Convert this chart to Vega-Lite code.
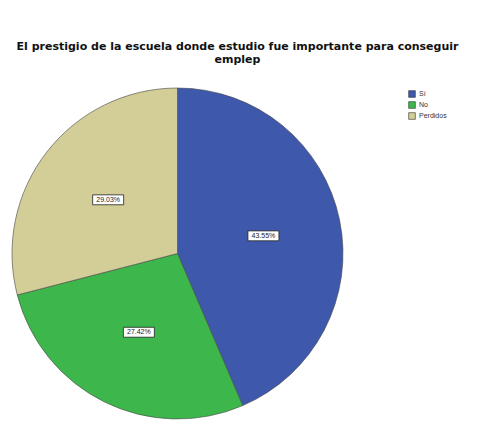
{
  "$schema": "https://vega.github.io/schema/vega-lite/v6.json",
  "autosize": "none",
  "padding": {"left": 12, "top": 88, "right": 156, "bottom": 5},
  "width": 331,
  "height": 331,
  "background": "white",
  "view": {"stroke": null},
  "title": {
    "text": ["El prestigio de la escuela donde estudio fue importante para conseguir", "emplep"],
    "font": "DejaVu Sans",
    "fontSize": 11,
    "fontWeight": "bold",
    "color": "#111",
    "anchor": "middle",
    "dx": 60,
    "offset": 22,
    "lineHeight": 13
  },
  "data": {
    "values": [
      {"cat": "Sí", "pct": 43.55, "ord": 1, "label": "43.55%"},
      {"cat": "No", "pct": 27.42, "ord": 2, "label": "27.42%"},
      {"cat": "Perdidos", "pct": 29.03, "ord": 3, "label": "29.03%"}
    ]
  },
  "layer": [
    {
      "mark": {"type": "arc", "stroke": "#444", "strokeWidth": 0.6},
      "encoding": {
        "theta": {"field": "pct", "type": "quantitative", "stack": true},
        "order": {"field": "ord", "type": "quantitative"},
        "color": {
          "field": "cat",
          "type": "nominal",
          "sort": ["Sí", "No", "Perdidos"],
          "scale": {"domain": ["Sí", "No", "Perdidos"], "range": ["#3e58ac", "#3db64b", "#d3cd97"]},
          "legend": {
            "title": null,
            "orient": "none",
            "legendX": 396,
            "legendY": 2,
            "symbolType": "square",
            "symbolSize": 45,
            "symbolStrokeColor": "#333",
            "symbolStrokeWidth": 0.6,
            "labelFont": "Liberation Sans",
            "labelFontSize": 7,
            "labelColor": "#333",
            "rowPadding": 1,
            "labelOffset": 3
          }
        }
      }
    },
    {
      "transform": [
        {"window": [{"op": "sum", "field": "pct", "as": "cum"}], "sort": [{"field": "ord"}], "frame": [null, 0]},
        {"calculate": "(datum.cum - datum.pct / 2) / 100 * 2 * PI", "as": "mid"},
        {"calculate": "0.53 * sin(datum.mid)", "as": "lx"},
        {"calculate": "0.53 * cos(datum.mid)", "as": "ly"}
      ],
      "encoding": {
        "x": {"field": "lx", "type": "quantitative", "scale": {"domain": [-1, 1], "nice": false, "zero": false}, "axis": null},
        "y": {"field": "ly", "type": "quantitative", "scale": {"domain": [-1, 1], "nice": false, "zero": false}, "axis": null}
      },
      "layer": [
        {
          "mark": {"type": "point", "shape": "M-1,-0.32H1V0.32H-1Z", "size": 961, "filled": true, "fill": "white", "stroke": "#222", "strokeWidth": 0.8, "opacity": 1}
        },
        {
          "mark": {"type": "text", "font": "Liberation Sans", "fontSize": 7, "color": "#222"},
          "encoding": {"text": {"field": "label"}}
        }
      ]
    }
  ]
}
